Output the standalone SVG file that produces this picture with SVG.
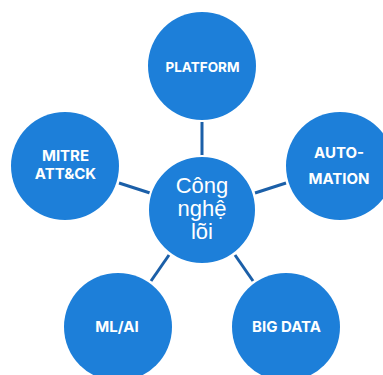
<svg xmlns="http://www.w3.org/2000/svg" width="383" height="375" viewBox="0 0 383 375">
<style>
.node{fill:#1d7fd9;}
.core{fill:#1d7fd9;stroke:#ffffff;stroke-width:2;}
.lbl{font-family:Inter,"Open Sans","Liberation Sans",sans-serif;font-weight:700;fill:#ffffff;text-anchor:middle;}
.ctr{font-family:"Liberation Sans",Arial,sans-serif;font-size:22px;fill:#ffffff;text-anchor:middle;}
.link{stroke:#1b5fa8;stroke-width:3;}
</style>
<rect width="383" height="375" fill="#ffffff"/>
<g id="connectors">
<line class="link" x1="202" y1="122" x2="202" y2="156"/>
<line class="link" x1="119" y1="183" x2="150" y2="193"/>
<line class="link" x1="255" y1="193" x2="286" y2="183"/>
<line class="link" x1="151" y1="281" x2="169" y2="255"/>
<line class="link" x1="235" y1="255" x2="253" y2="281"/>
</g>
<g id="platform">
<circle class="node" cx="202" cy="66" r="54"/>
<text class="lbl" x="202.5" y="72" font-size="13.5">PLATFORM</text>
</g>
<g id="automation">
<circle class="node" cx="340" cy="166" r="54"/>
<text class="lbl" x="339" y="158" font-size="15">AUTO-</text>
<text class="lbl" x="339" y="184" font-size="15">MATION</text>
</g>
<g id="bigdata">
<circle class="node" cx="286" cy="327" r="54"/>
<text class="lbl" x="286.5" y="332" font-size="15">BIG DATA</text>
</g>
<g id="mlai">
<circle class="node" cx="118" cy="327" r="54"/>
<text class="lbl" x="117" y="332" font-size="15">ML/AI</text>
</g>
<g id="mitre">
<circle class="node" cx="65" cy="166" r="54"/>
<text class="lbl" x="65.5" y="161" font-size="15">MITRE</text>
<text class="lbl" x="65.5" y="179" font-size="15">ATT&amp;CK</text>
</g>
<g id="core">
<circle class="core" cx="202" cy="210" r="54"/>
<text class="ctr" x="202" y="193">Công</text>
<text class="ctr" x="202" y="216">nghệ</text>
<text class="ctr" x="202" y="239">lõi</text>
</g>
</svg>
